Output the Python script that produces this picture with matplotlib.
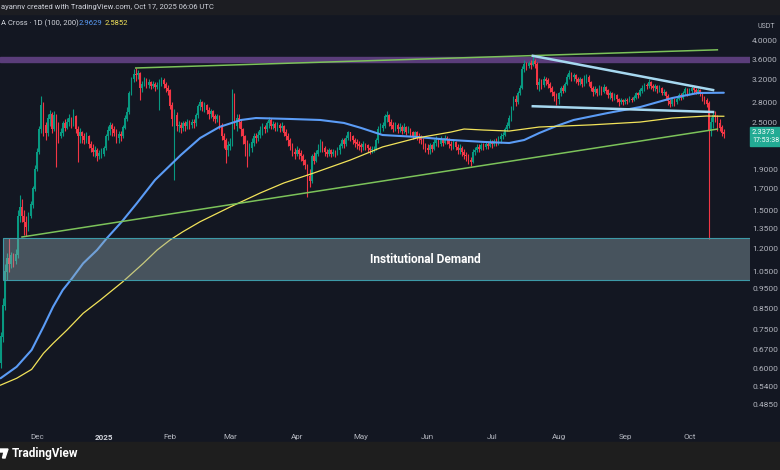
import numpy as np
import matplotlib
matplotlib.use("Agg")
import matplotlib.pyplot as plt
from matplotlib.patches import Rectangle, Polygon

plt.rcParams["font.family"] = ["Roboto", "DejaVu Sans"]

# daily candles (close, high, low), day 0 = 2024-11-14, open = previous close
first_open = 0.62
nov = [(0.72, 0.74, 0.60), (0.86, 0.90, 0.70), (1.05, 1.10, 0.84), (1.13, 1.17, 1.00),
       (1.10, 1.28, 1.05), (1.15, 1.18, 1.07), (1.12, 1.17, 1.08), (1.16, 1.20, 1.10),
       (1.45, 1.50, 1.14), (1.52, 1.64, 1.40), (1.45, 1.60, 1.40), (1.40, 1.50, 1.30),
       (1.36, 1.45, 1.29), (1.45, 1.48, 1.33), (1.55, 1.58, 1.43), (1.70, 1.73, 1.52),
       (1.90, 1.95, 1.68)]
dec = [(2.10, 2.15, 1.88), (2.40, 2.45, 2.08), (2.75, 2.90, 2.35), (2.45, 2.80, 2.30),
       (2.35, 2.50, 2.25), (2.55, 2.62, 2.30), (2.62, 2.68, 2.45), (2.40, 2.65, 2.35),
       (2.60, 2.66, 2.38), (2.45, 2.62, 1.93), (2.30, 2.50, 2.22), (2.35, 2.42, 2.28),
       (2.48, 2.52, 2.30), (2.42, 2.55, 2.38), (2.50, 2.56, 2.40), (2.55, 2.62, 2.45),
       (2.48, 2.58, 2.42), (2.58, 2.70, 2.45), (2.40, 2.60, 2.35), (2.30, 2.45, 1.98),
       (2.35, 2.42, 2.22), (2.30, 2.38, 2.22), (2.25, 2.35, 2.20), (2.30, 2.36, 2.22),
       (2.20, 2.32, 2.15), (2.15, 2.24, 2.10), (2.10, 2.20, 2.05), (2.12, 2.18, 2.04),
       (2.05, 2.15, 2.00), (2.08, 2.12, 2.02), (2.08, 2.15, 2.03)]
jan = [(2.15, 2.18, 2.05), (2.30, 2.33, 2.12), (2.38, 2.45, 2.25), (2.45, 2.50, 2.32),
       (2.40, 2.48, 2.30), (2.35, 2.45, 2.30), (2.28, 2.40, 2.22), (2.33, 2.38, 2.22),
       (2.30, 2.37, 2.24), (2.42, 2.46, 2.28), (2.55, 2.60, 2.40), (2.65, 2.72, 2.52),
       (2.95, 3.00, 2.62), (3.20, 3.25, 2.92), (3.30, 3.40, 3.15), (3.28, 3.42, 3.18),
       (3.32, 3.38, 3.20), (3.05, 3.35, 2.84), (3.12, 3.18, 2.98), (3.20, 3.25, 3.08),
       (3.10, 3.22, 3.05), (3.15, 3.20, 3.05), (3.08, 3.18, 3.02), (3.12, 3.18, 3.04),
       (3.06, 3.15, 3.00), (3.10, 3.16, 3.02), (3.14, 3.20, 2.68), (3.18, 3.25, 3.08),
       (3.12, 3.22, 3.05), (3.05, 3.15, 2.98), (3.00, 3.10, 2.92)]
feb = [(2.75, 3.02, 2.70), (2.55, 2.80, 2.45), (2.60, 2.70, 1.79), (2.45, 2.65, 2.38),
       (2.45, 2.52, 2.36), (2.42, 2.50, 2.35), (2.48, 2.52, 2.38), (2.45, 2.52, 2.38),
       (2.50, 2.55, 2.40), (2.46, 2.53, 2.40), (2.50, 2.55, 2.42), (2.48, 2.55, 2.42),
       (2.60, 2.64, 2.45), (2.74, 2.78, 2.56), (2.80, 2.86, 2.68), (2.72, 2.82, 2.66),
       (2.76, 2.80, 2.65), (2.68, 2.78, 2.62), (2.62, 2.72, 2.55), (2.66, 2.70, 2.56),
       (2.58, 2.68, 2.52), (2.55, 2.62, 2.48), (2.58, 2.62, 2.50), (2.45, 2.60, 2.40),
       (2.30, 2.48, 2.25), (2.25, 2.35, 2.15), (2.12, 2.28, 1.97), (2.18, 2.24, 2.05)]
mar = [(2.20, 2.28, 2.12), (2.90, 3.02, 2.18), (2.45, 2.95, 2.40), (2.55, 2.62, 2.38),
       (2.50, 2.62, 2.42), (2.40, 2.55, 2.30), (2.30, 2.42, 2.20), (2.20, 2.32, 2.05),
       (2.10, 2.25, 1.93), (2.15, 2.22, 2.05), (2.22, 2.28, 2.10), (2.30, 2.35, 2.18),
       (2.28, 2.35, 2.22), (2.32, 2.38, 2.24), (2.38, 2.45, 2.28), (2.42, 2.48, 2.32),
       (2.40, 2.46, 2.34), (2.48, 2.52, 2.36), (2.52, 2.58, 2.42), (2.45, 2.56, 2.40),
       (2.47, 2.52, 2.40), (2.42, 2.50, 2.38), (2.45, 2.50, 2.38), (2.42, 2.48, 2.36),
       (2.44, 2.50, 2.38), (2.35, 2.46, 2.30), (2.30, 2.40, 2.25), (2.25, 2.34, 2.18),
       (2.18, 2.28, 2.12), (2.10, 2.22, 2.05), (2.08, 2.15, 2.02)]
apr = [(2.12, 2.18, 2.05), (2.08, 2.15, 2.02), (2.05, 2.12, 2.00), (2.00, 2.08, 1.95),
       (1.95, 2.02, 1.90), (1.82, 1.96, 1.62), (1.78, 1.90, 1.72), (2.05, 2.08, 1.76),
       (2.00, 2.10, 1.96), (2.08, 2.12, 1.98), (2.12, 2.20, 2.05), (2.20, 2.26, 2.10),
       (2.15, 2.24, 2.10), (2.10, 2.18, 2.05), (2.08, 2.14, 2.04), (2.12, 2.15, 2.05),
       (2.08, 2.14, 2.04), (2.10, 2.14, 2.05), (2.09, 2.13, 2.04), (2.12, 2.16, 2.06),
       (2.18, 2.22, 2.08), (2.25, 2.28, 2.15), (2.20, 2.28, 2.15), (2.28, 2.32, 2.18),
       (2.35, 2.38, 2.25), (2.30, 2.36, 2.24), (2.25, 2.32, 2.20), (2.22, 2.28, 2.16),
       (2.20, 2.26, 2.14), (2.18, 2.24, 2.12)]
may = [(2.16, 2.22, 2.10), (2.20, 2.24, 2.12), (2.18, 2.22, 2.12), (2.15, 2.20, 2.10),
       (2.12, 2.18, 2.08), (2.14, 2.18, 2.09), (2.14, 2.17, 2.10), (2.25, 2.28, 2.12),
       (2.40, 2.44, 2.22), (2.42, 2.48, 2.35), (2.45, 2.50, 2.38), (2.58, 2.62, 2.42),
       (2.60, 2.66, 2.50), (2.50, 2.62, 2.45), (2.45, 2.55, 2.40), (2.40, 2.50, 2.36),
       (2.45, 2.50, 2.38), (2.40, 2.48, 2.35), (2.43, 2.48, 2.36), (2.38, 2.46, 2.33),
       (2.42, 2.48, 2.35), (2.36, 2.44, 2.32), (2.40, 2.45, 2.34), (2.35, 2.42, 2.30),
       (2.30, 2.38, 2.26), (2.35, 2.38, 2.28), (2.30, 2.37, 2.25), (2.28, 2.34, 2.22),
       (2.25, 2.32, 2.20), (2.18, 2.28, 2.14), (2.15, 2.22, 2.10)]
jun = [(2.12, 2.20, 2.08), (2.18, 2.22, 2.08), (2.14, 2.20, 2.10), (2.22, 2.26, 2.12),
       (2.25, 2.30, 2.18), (2.20, 2.28, 2.16), (2.26, 2.30, 2.18), (2.22, 2.28, 2.18),
       (2.28, 2.32, 2.20), (2.25, 2.30, 2.20), (2.20, 2.28, 2.15), (2.18, 2.24, 2.12),
       (2.22, 2.26, 2.14), (2.16, 2.24, 2.12), (2.12, 2.20, 2.08), (2.15, 2.20, 2.08),
       (2.10, 2.17, 2.05), (2.06, 2.14, 2.02), (2.05, 2.10, 2.00), (2.00, 2.08, 1.96),
       (1.98, 2.04, 1.94), (2.10, 2.14, 1.97), (2.12, 2.16, 2.06), (2.16, 2.20, 2.10),
       (2.14, 2.20, 2.10), (2.18, 2.22, 2.12), (2.16, 2.21, 2.12), (2.20, 2.24, 2.14),
       (2.18, 2.23, 2.14), (2.22, 2.26, 2.16)]
jul = [(2.20, 2.25, 2.15), (2.24, 2.27, 2.17), (2.22, 2.28, 2.18), (2.27, 2.30, 2.19),
       (2.30, 2.34, 2.22), (2.32, 2.36, 2.26), (2.40, 2.43, 2.30), (2.45, 2.50, 2.38),
       (2.55, 2.60, 2.42), (2.70, 2.75, 2.52), (2.85, 2.90, 2.68), (2.80, 2.92, 2.75),
       (2.95, 3.00, 2.78), (3.05, 3.10, 2.92), (3.40, 3.45, 3.02), (3.50, 3.58, 3.35),
       (3.45, 3.55, 3.38), (3.52, 3.56, 3.42), (3.48, 3.58, 3.40), (3.55, 3.66, 3.45),
       (3.50, 3.60, 3.42), (3.10, 3.55, 3.02), (3.15, 3.22, 3.00), (3.10, 3.20, 3.02),
       (3.20, 3.26, 3.06), (3.18, 3.25, 3.10), (3.12, 3.22, 3.05), (3.05, 3.15, 2.98),
       (2.98, 3.08, 2.90), (2.90, 3.00, 2.82), (2.85, 2.95, 2.76)]
aug = [(2.95, 2.98, 2.78), (3.05, 3.08, 2.90), (3.00, 3.10, 2.95), (3.12, 3.15, 2.98),
       (3.25, 3.30, 3.10), (3.32, 3.38, 3.20), (3.25, 3.35, 3.18), (3.28, 3.32, 3.18),
       (3.20, 3.30, 3.14), (3.15, 3.24, 3.10), (3.20, 3.24, 3.10), (3.12, 3.22, 3.06),
       (3.18, 3.28, 3.08), (3.25, 3.30, 3.14), (3.15, 3.28, 3.08), (3.05, 3.18, 3.00),
       (2.98, 3.08, 2.90), (3.02, 3.08, 2.94), (2.95, 3.05, 2.90), (3.05, 3.10, 2.92),
       (2.98, 3.08, 2.92), (3.06, 3.12, 2.95), (3.00, 3.08, 2.94), (2.92, 3.03, 2.88),
       (2.95, 3.00, 2.86), (2.88, 2.98, 2.83), (2.92, 2.96, 2.84), (2.85, 2.94, 2.80),
       (2.80, 2.88, 2.75), (2.83, 2.88, 2.77), (2.80, 2.86, 2.76)]
sep = [(2.84, 2.88, 2.78), (2.82, 2.88, 2.78), (2.86, 2.90, 2.80), (2.84, 2.89, 2.80),
       (2.88, 2.92, 2.82), (2.95, 2.98, 2.86), (2.92, 2.98, 2.88), (3.00, 3.04, 2.90),
       (3.05, 3.09, 2.96), (3.10, 3.14, 3.00), (3.08, 3.14, 3.02), (3.15, 3.20, 3.05),
       (3.08, 3.18, 3.02), (3.04, 3.12, 3.00), (3.07, 3.12, 3.00), (3.02, 3.10, 2.96),
       (3.05, 3.09, 2.98), (2.96, 3.07, 2.92), (2.98, 3.03, 2.92), (2.90, 3.00, 2.84),
       (2.82, 2.94, 2.76), (2.78, 2.86, 2.72), (2.85, 2.88, 2.75), (2.80, 2.88, 2.74),
       (2.86, 2.90, 2.78), (2.92, 2.96, 2.84), (2.88, 2.95, 2.84), (2.96, 3.00, 2.86),
       (3.02, 3.06, 2.92), (2.96, 3.04, 2.90)]
octo = [(3.00, 3.05, 2.92), (3.04, 3.08, 2.96), (3.01, 3.08, 2.95), (2.98, 3.04, 2.94),
        (3.00, 3.04, 2.94), (2.94, 3.02, 2.90), (2.86, 2.96, 2.82), (2.84, 2.90, 2.78),
        (2.78, 2.88, 2.72), (2.38, 2.82, 1.27), (2.50, 2.58, 2.30), (2.60, 2.65, 2.42),
        (2.58, 2.66, 2.50), (2.48, 2.60, 2.38), (2.42, 2.55, 2.38), (2.35, 2.46, 2.30),
        (2.3373, 2.40, 2.28)]

# moving averages (day index, price)
ma100_day = [0, 7.5, 14.5, 20, 24.5, 29, 33, 38.5, 45, 49.5, 56.5, 63.5, 72, 84, 93, 102,
             112, 119, 135, 149, 160, 168, 178, 194, 210, 225, 237, 244, 251, 259, 267,
             283, 298, 313, 325, 337]
ma100_val = [0.566, 0.605, 0.667, 0.763, 0.857, 0.944, 1.005, 1.102, 1.191, 1.274, 1.403,
             1.561, 1.787, 2.065, 2.279, 2.43, 2.53, 2.559, 2.545, 2.53, 2.487, 2.416,
             2.319, 2.293, 2.253, 2.228, 2.214, 2.253, 2.346, 2.443, 2.53, 2.635, 2.727,
             2.874, 2.959, 2.9629]
ma200_day = [0, 7.5, 14.5, 20, 24.5, 31, 38.5, 46.5, 57, 66.5, 73, 79, 85, 93, 107, 121,
             132, 146, 163, 178, 194, 210, 216, 225, 237, 251, 275, 298, 313, 329, 337]
ma200_val = [0.544, 0.566, 0.596, 0.654, 0.693, 0.749, 0.825, 0.891, 0.991, 1.102, 1.191,
             1.262, 1.324, 1.403, 1.528, 1.657, 1.756, 1.861, 2.006, 2.164, 2.279, 2.36,
             2.401, 2.387, 2.373, 2.429, 2.459, 2.50, 2.559, 2.589, 2.5852]

# drawn levels
green_upper = ([63, 334], [3.42, 3.80])
green_lower = ([10, 334], [1.284, 2.40])
wedge_upper = ([248, 332], [3.67, 3.01])
wedge_lower = ([248, 332], [2.74, 2.65])
purple_band = (3.54, 3.65)
demand_zone = (1.0, 1.276)

price_ticks = [4.0, 3.6, 3.2, 2.8, 2.5, 1.9, 1.7, 1.5, 1.35, 1.2, 1.05, 0.95, 0.85,
               0.75, 0.67, 0.6, 0.54, 0.485]
month_pos = [17, 48, 79, 107, 138, 168, 199, 229, 260, 291, 321]
month_lbl = ["Dec", "2025", "Feb", "Mar", "Apr", "May", "Jun", "Jul", "Aug", "Sep", "Oct"]

rows = nov + dec + jan + feb + mar + apr + may + jun + jul + aug + sep + octo
closes = np.array([r[0] for r in rows])
highs = np.array([r[1] for r in rows])
lows = np.array([r[2] for r in rows])
opens = np.r_[first_open, closes[:-1]]
days = np.arange(len(rows))

bg = "#131722"
up_c, dn_c = "#089981", "#f23645"
txt_c = "#b2b5be"

fig = plt.figure(figsize=(7.8, 4.7), dpi=100, facecolor=bg)
ax = fig.add_axes([0, 40 / 470, 750 / 780, 416 / 470])
ax.set_facecolor(bg)
ax.set_yscale("log")

cols = np.where(closes >= opens, up_c, dn_c)
ax.vlines(days, lows, highs, colors=cols, lw=0.8, zorder=2)
ax.bar(days, np.abs(closes - opens) + 0.004, bottom=np.minimum(opens, closes),
       width=0.75, color=cols, zorder=2)

ax.plot(ma100_day, ma100_val, color="#5b9cf6", lw=1.5, zorder=3, solid_capstyle="round")
ax.plot(ma200_day, ma200_val, color="#f2e35a", lw=0.9, zorder=3)

ax.axhspan(*purple_band, color="#5a3d7a", zorder=1)
ax.plot(*green_upper, color="#7cc25a", lw=1.1, zorder=4)
ax.plot(*green_lower, color="#7cc25a", lw=1.1, zorder=4)
ax.plot(*wedge_upper, color="#a6d8f0", lw=1.8, zorder=4)
ax.plot(*wedge_lower, color="#a6d8f0", lw=1.8, zorder=4)

ax.add_patch(Rectangle((1.2, demand_zone[0]), 360, demand_zone[1] - demand_zone[0],
                       facecolor="#90a8b0", alpha=0.42, edgecolor="none", zorder=5))
ax.add_patch(Rectangle((1.2, demand_zone[0]), 360, demand_zone[1] - demand_zone[0],
                       facecolor="none", edgecolor="#3d9aa8", lw=0.8, zorder=5))
ax.text(198, 1.13, "Institutional Demand", color="white", fontsize=8.6,
        fontweight="bold", ha="center", va="center", zorder=6)

ax.set_xlim(-0.24, 349.2)
ax.set_ylim(0.4194, 4.677)
ax.set_yticks(price_ticks)
ax.set_yticklabels([f"{t:.4f}" for t in price_ticks])
ax.yaxis.set_minor_locator(plt.NullLocator())
ax.set_xticks(month_pos)
ax.set_xticklabels(month_lbl)
ax.tick_params(axis="y", length=0, pad=1.5, labelsize=6, labelcolor=txt_c,
               left=False, labelleft=False, right=True, labelright=True)
ax.tick_params(axis="x", length=0, pad=3, labelsize=5.8, labelcolor=txt_c)
ax.get_xticklabels()[1].set_fontweight("bold")
ax.get_xticklabels()[1].set_color("#d1d4dc")
for s in ax.spines.values():
    s.set_visible(False)

# header, legend, price tag, footer
fig.add_artist(Rectangle((0, 456 / 470), 1, 14 / 470, transform=fig.transFigure,
                         color="#1c1d22"))
fig.text(1 / 780, 1 - 7 / 470, "ayannv created with TradingView.com, Oct 17, 2025 06:06 UTC",
         color="#d1d4dc", fontsize=5.5, va="center")
fig.text(1 / 780, 1 - 23 / 470, "A Cross · 1D (100, 200)", color="#d1d4dc", fontsize=5.5, va="center")
fig.text(79 / 780, 1 - 23 / 470, "2.9629", color="#5b9cf6", fontsize=5.5, va="center")
fig.text(105 / 780, 1 - 23 / 470, "2.5852", color="#f2e35a", fontsize=5.5, va="center")
fig.text(757 / 780, 1 - 27 / 470, "USDT", color=txt_c, fontsize=5, va="center")

fig.add_artist(Rectangle((750 / 780, 1 - 146 / 470), 30 / 780, 19 / 470,
                         transform=fig.transFigure, color="#22ab94"))
fig.text(752 / 780, 1 - 132 / 470, "2.3373", color="white", fontsize=5.5, va="center")
fig.text(752 / 780, 1 - 141 / 470, "17:53:38", color="white", fontsize=5, va="center")

fig.add_artist(Rectangle((0, 0), 1, 28 / 470, transform=fig.transFigure, color="#1e1e1e"))
logo = [(0, 449), (8, 449), (5, 458), (2.5, 458), (4, 452), (0, 452)]
fig.add_artist(Polygon([(px / 780, 1 - py / 470) for px, py in logo], closed=True,
                       transform=fig.transFigure, color="white"))
fig.text(12 / 780, 1 - 454 / 470, "TradingView", color="white", fontsize=8.5,
         fontweight="bold", va="center")

fig.savefig("out.png", dpi=100, facecolor=bg)
